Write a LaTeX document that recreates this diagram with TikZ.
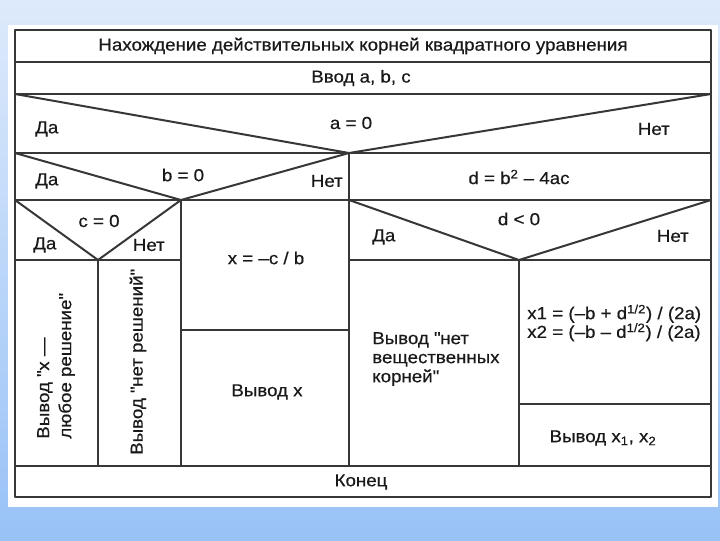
\documentclass[tikz,border=0pt]{standalone}
\usepackage{fontspec}
\setmainfont{Liberation Sans}[FakeStretch=1.08, FakeBold=0.5]
\usetikzlibrary{positioning}

\definecolor{sheetblue}{RGB}{152,194,247}
\definecolor{paleblue}{RGB}{222,234,251}
\definecolor{ink}{RGB}{25,25,25}
\definecolor{rulegray}{RGB}{55,55,55}

\begin{document}
\begin{tikzpicture}[x=0.75pt, y=-0.75pt,
            every node/.style={font=\fontsize{13}{16}\selectfont, text=ink, inner sep=0pt},
            grid/.style={draw=rulegray, line width=1.5pt, line join=round},
            yes/.style={anchor=west},
            no/.style={anchor=east},
            upright/.style={rotate=90, align=left},
            block/.style={anchor=west, align=left}
  ]

  % background and white sheet
  \shade[top color=paleblue, bottom color=sheetblue] (0,0) rectangle (720,540);
  \fill[white] (8,25) rectangle (718,507);

  % apexes of the decision triangles
  \coordinate (apexA) at (349,153);
  \coordinate (apexB) at (181,200);
  \coordinate (apexC) at (98,260);
  \coordinate (apexD) at (519,260);

  % frame and rows
  \draw[grid] (15,30) rectangle (711,497);
  \draw[grid] (15,62) -- (711,62);
  \draw[grid] (15,94) -- (711,94);
  \draw[grid] (15,153) -- (711,153);
  \draw[grid] (15,200) -- (711,200);
  \draw[grid] (15,466) -- (711,466);

  % a = 0
  \draw[grid] (15,94) -- (apexA) -- (711,94);
  \draw[grid] (apexA) -- (349,466);
  % b = 0
  \draw[grid] (15,153) -- (apexB) -- (349,153);
  \draw[grid] (apexB) -- (181,466);
  \draw[grid] (181,330) -- (349,330);
  % c = 0
  \draw[grid] (15,200) -- (apexC) -- (181,200);
  \draw[grid] (15,260) -- (181,260);
  \draw[grid] (apexC) -- (98,466);
  % d < 0
  \draw[grid] (349,200) -- (apexD) -- (711,200);
  \draw[grid] (349,260) -- (711,260);
  \draw[grid] (apexD) -- (519,466);
  \draw[grid] (519,404) -- (711,404);

  \node (title) at (363,46) {Нахождение действительных корней квадратного уравнения};
  \node (input) at (361,78) {Ввод a, b, c};

  \node (condA) at (351,123) {a = 0};
  \node[yes] (yesA) at (35,129) {Да};
  \node[no] (noA) at (670,129) {Нет};

  \node (condB) at (183,175) {b = 0};
  \node[yes] (yesB) at (35,181) {Да};
  \node[no] (noB) at (343,181) {Нет};
  \node (disc) at (519,177) {d = b\textsuperscript{2} – 4ac};

  \node (condC) at (99,221) {c = 0};
  \node[yes] (yesC) at (33,245) {Да};
  \node[no] (noC) at (165,245) {Нет};

  \node (condD) at (519,219) {d < 0};
  \node[yes] (yesD) at (372,237) {Да};
  \node[no] (noD) at (689,236) {Нет};

  \node[upright, font=\fontsize{13}{16.5}\selectfont] (anyx) at (56,366)
    {Вывод \textquotedbl x —\\любое решение\textquotedbl};
  \node[upright] (nosol) at (138,362) {Вывод \textquotedbl нет решений\textquotedbl};

  \node (xval) at (266,258) {x = –c / b};
  \node (outx) at (267,392) {Вывод x};

  \node[block, font=\fontsize{13}{14.3}\selectfont] (noreal) at (372,359)
    {Вывод \textquotedbl нет\\вещественных\\корней\textquotedbl};
  \node[block, font=\fontsize{13}{14}\selectfont] (roots) at (527,323)
    {x1 = (–b + d\textsuperscript{1/2}) / (2a)\\x2 = (–b – d\textsuperscript{1/2}) / (2a)};
  \node (outroots) at (603,438) {Вывод x\textsubscript{1}, x\textsubscript{2}};

  \node (stop) at (361,482) {Конец};

\end{tikzpicture}
\end{document}
